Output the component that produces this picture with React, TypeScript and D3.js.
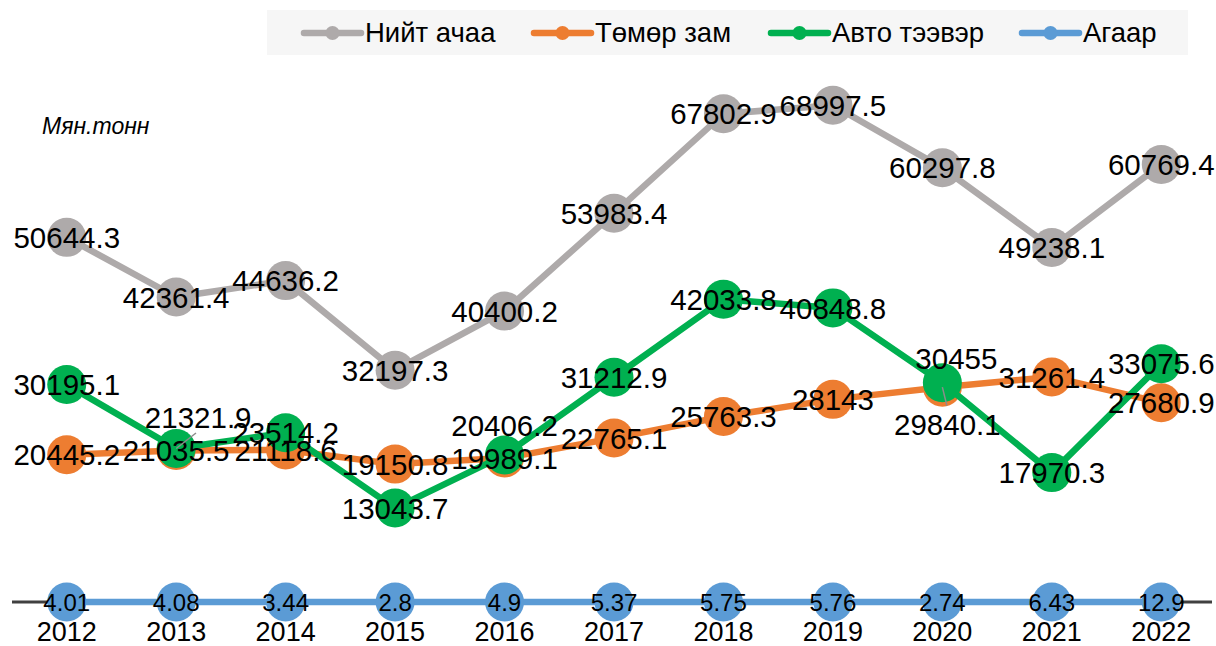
import React from "react";
import * as d3 from "d3";

const years = ["2012","2013","2014","2015","2016","2017","2018","2019","2020","2021","2022"];
const totalCargo = [50644.3, 42361.4, 44636.2, 32197.3, 40400.2, 53983.4, 67802.9, 68997.5, 60297.8, 49238.1, 60769.4];
const railway = [20445.2, 21035.5, 21118.6, 19150.8, 19989.1, 22765.1, 25763.3, 28143, 29840.1, 31261.4, 27680.9];
const road = [30195.1, 21321.9, 23514.2, 13043.7, 20406.2, 31212.9, 42033.8, 40848.8, 30455, 17970.3, 33075.6];
const air = [4.01, 4.08, 3.44, 2.8, 4.9, 5.37, 5.75, 5.76, 2.74, 6.43, 12.9];
const seriesNames = ["Нийт ачаа", "Төмөр зам", "Авто тээвэр", "Агаар"];
const unitLabel = "Мян.тонн";

const W = 1216, H = 646;
const colors = ["#AEAAAA", "#ED7D31", "#00B050", "#5B9BD5"];
const seriesValues = [totalCargo, railway, road, air];

// label nudges (layout only): [seriesIndex, yearIndex, dx, dy, leader]
const nudges: [number, number, number, number, boolean][] = [
  [2, 1, 22, -31, true],
  [2, 4, 0, -30, false],
  [2, 8, 14, -24, false],
  [1, 8, 5, 37, true],
];

export default function App() {
  const x = d3.scaleBand<string>().domain(years).range([12, 1216]).paddingInner(0).paddingOuter(0);
  const cx = (yr: string) => (x(yr) as number) + x.bandwidth() / 2;
  const y = d3.scaleLinear().domain([0, 80000]).range([602, 26]);
  const line = d3.line<number>().x((_, i) => cx(years[i])).y((v) => y(v));
  const fmt = (v: number) => String(v);
  const r = 19.5;
  const font = "'Liberation Sans', Arial, sans-serif";
  const legendX = [304, 534, 771, 1022];

  const labels: React.ReactNode[] = [];
  seriesValues.forEach((vals, s) => {
    vals.forEach((v, i) => {
      const px = cx(years[i]);
      const py = y(v);
      const n = nudges.find((d) => d[0] === s && d[1] === i);
      const dx = n ? n[2] : 0;
      const dy = n ? n[3] : 0;
      if (n && n[4]) {
        const lx = px + dx * 0.9;
        const ly = py + dy * 0.5;
        labels.push(
          <line key={`ld${s}-${i}`} x1={px} y1={py} x2={lx} y2={ly} stroke="#8c8c8c" strokeWidth={1.5} />
        );
      }
      labels.push(
        <text key={`l${s}-${i}`} x={px + dx} y={py + dy} dy="0.36em" textAnchor="middle"
          fontSize={s === 3 ? 24 : 29.5} fill="#000" fontFamily={font}>
          {fmt(v)}
        </text>
      );
    });
  });

  return (
    <svg width={W} height={H} style={{ position: "absolute", left: 0, top: 0, background: "#fff" }}>
      <rect x={267} y={10} width={921} height={45} fill="#f6f6f6" />
      {seriesNames.map((name, s) => (
        <g key={name}>
          <line x1={legendX[s]} x2={legendX[s] + 57} y1={33} y2={33} stroke={colors[s]} strokeWidth={6.5} strokeLinecap="round" />
          <circle cx={legendX[s] + 28.5} cy={33} r={7} fill={colors[s]} />
          <text x={legendX[s] + 61} y={42} fontSize={27.5} fontFamily={font} fill="#000">{name}</text>
        </g>
      ))}
      <text x={42} y={134} fontSize={23} fontStyle="italic" fontFamily={font} fill="#000">{unitLabel}</text>
      <line x1={12} x2={1212} y1={602} y2={602} stroke="#404040" strokeWidth={3} />
      {seriesValues.map((vals, s) => (
        <g key={s}>
          <path d={line(vals) || ""} fill="none" stroke={colors[s]} strokeWidth={6.5} strokeLinejoin="round" />
          {vals.map((v, i) => (
            <circle key={i} cx={cx(years[i])} cy={y(v)} r={r} fill={colors[s]} />
          ))}
        </g>
      ))}
      {labels}
      {years.map((yr) => (
        <text key={yr} x={cx(yr)} y={641} textAnchor="middle" fontSize={27} fontFamily={font} fill="#000">{yr}</text>
      ))}
    </svg>
  );
}
